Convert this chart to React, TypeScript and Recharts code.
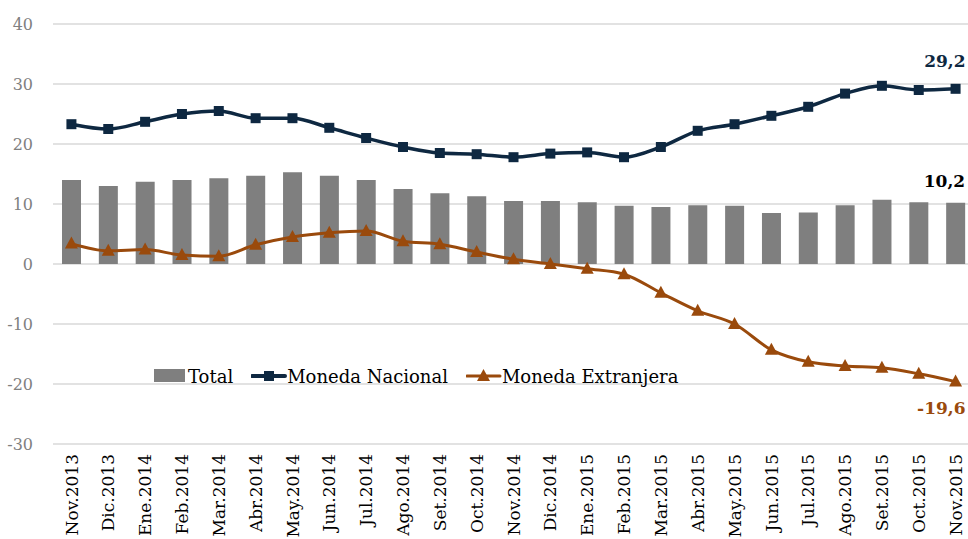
import React from 'react';
import {
  ComposedChart,
  Bar,
  Line,
  XAxis,
  YAxis,
  CartesianGrid,
  LabelList,
} from 'recharts';

const months = [
  'Nov.2013', 'Dic.2013', 'Ene.2014', 'Feb.2014', 'Mar.2014', 'Abr.2014', 'May.2014',
  'Jun.2014', 'Jul.2014', 'Ago.2014', 'Set.2014', 'Oct.2014', 'Nov.2014', 'Dic.2014',
  'Ene.2015', 'Feb.2015', 'Mar.2015', 'Abr.2015', 'May.2015', 'Jun.2015', 'Jul.2015',
  'Ago.2015', 'Set.2015', 'Oct.2015', 'Nov.2015',
];

const total = [
  14.0, 13.0, 13.7, 14.0, 14.3, 14.7, 15.3, 14.7, 14.0, 12.5, 11.8, 11.3, 10.5, 10.5,
  10.3, 9.7, 9.5, 9.8, 9.7, 8.5, 8.6, 9.8, 10.7, 10.3, 10.2,
];

const nacional = [
  23.3, 22.5, 23.7, 25.0, 25.5, 24.3, 24.3, 22.7, 21.0, 19.5, 18.5, 18.3, 17.8, 18.4,
  18.6, 17.8, 19.5, 22.2, 23.3, 24.7, 26.2, 28.4, 29.7, 29.0, 29.2,
];

const extranjera = [
  3.4, 2.2, 2.4, 1.5, 1.3, 3.2, 4.5, 5.2, 5.5, 3.8, 3.3, 2.0, 0.8, 0.0,
  -0.8, -1.7, -4.8, -7.8, -10.0, -14.3, -16.3, -17.0, -17.3, -18.3, -19.6,
];

const yTicks = [-30, -20, -10, 0, 10, 20, 30, 40];

const NAVY = '#0E2841';
const BROWN = '#9A4A0C';
const GRAY = '#7F7F7F';
const FONT = '"DejaVu Serif", serif';

const data = months.map((m, i) => ({
  month: m,
  total: total[i],
  nacional: nacional[i],
  extranjera: extranjera[i],
}));

const last = months.length - 1;
const fmt = (v: number) => v.toFixed(1).replace('.', ',');

function MonthTick({ x, y, payload }: any) {
  return (
    <g transform={`translate(${x},${y})`}>
      <text
        transform="rotate(-90)"
        x={-2}
        y={0}
        dy="0.36em"
        textAnchor="end"
        fontFamily={FONT}
        fontSize={17}
        fill="#000"
      >
        {payload.value}
      </text>
    </g>
  );
}

// only the last point of each series gets a value label
function endLabel(color: string, place: 'above' | 'below' | 'bar') {
  return (props: any) => {
    const { x, y, value, index } = props;
    if (index !== last) return null;
    let ty = y;
    let tx = x + 10;
    if (place === 'above') ty = y - 22;
    if (place === 'below') ty = y + 32;
    if (place === 'bar') {
      tx = x + props.width;
      ty = y - 16;
    }
    return (
      <text x={tx} y={ty} textAnchor="end" fontFamily={FONT} fontSize={17} fontWeight="bold" fill={color}>
        {fmt(value)}
      </text>
    );
  };
}

function Triangle({ cx, cy }: any) {
  if (cx == null || cy == null) return null;
  return <path d={`M${cx},${cy - 7} L${cx + 6.5},${cy + 5} L${cx - 6.5},${cy + 5} Z`} fill={BROWN} />;
}

function Square({ cx, cy }: any) {
  if (cx == null || cy == null) return null;
  return <rect x={cx - 5} y={cy - 5} width={10} height={10} fill={NAVY} />;
}

function LegendBox() {
  const item = { display: 'flex', alignItems: 'center', marginRight: 18 } as const;
  return (
    <div
      style={{
        position: 'absolute',
        left: 154,
        top: 364,
        display: 'flex',
        fontFamily: FONT,
        fontSize: 18,
        color: '#000',
        whiteSpace: 'nowrap',
      }}
    >
      <div style={item}>
        <svg width={34} height={24}>
          <rect x={0} y={5} width={31} height={13} fill={GRAY} />
        </svg>
        <span>Total</span>
      </div>
      <div style={item}>
        <svg width={36} height={24}>
          <line x1={1} y1={12} x2={34} y2={12} stroke={NAVY} strokeWidth={4} strokeLinecap="round" />
          <rect x={13} y={7} width={10} height={10} fill={NAVY} />
        </svg>
        <span>Moneda Nacional</span>
      </div>
      <div style={item}>
        <svg width={36} height={24}>
          <line x1={1} y1={12} x2={34} y2={12} stroke={BROWN} strokeWidth={3} strokeLinecap="round" />
          <path d="M17.5,5 L24,17 L11,17 Z" fill={BROWN} />
        </svg>
        <span>Moneda Extranjera</span>
      </div>
    </div>
  );
}

export default function App() {
  return (
    <div style={{ position: 'relative', width: 968, height: 539, overflow: 'hidden' }}>
      <style>{'body{margin:0;overflow:hidden;}'}</style>
      <ComposedChart
        width={974}
        height={539}
        data={data}
        margin={{ top: 24, right: 0, bottom: 0, left: 0 }}
        barSize={19}
      >
        <CartesianGrid vertical={false} stroke="#D9D9D9" strokeWidth={1.5} />
        <XAxis
          dataKey="month"
          interval={0}
          height={95}
          axisLine={false}
          tickLine={false}
          tick={<MonthTick />}
        />
        <YAxis
          width={53}
          domain={[-30, 40]}
          ticks={yTicks}
          axisLine={false}
          tickLine={false}
          tickMargin={14}
          tick={{ fontFamily: FONT, fontSize: 16, fill: '#808080' }}
        />
        <Bar dataKey="total" fill={GRAY} isAnimationActive={false}>
          <LabelList dataKey="total" content={endLabel('#000', 'bar')} />
        </Bar>
        <Line
          dataKey="nacional"
          type="monotone"
          stroke={NAVY}
          strokeWidth={3.5}
          dot={<Square />}
          activeDot={false}
          isAnimationActive={false}
        >
          <LabelList dataKey="nacional" content={endLabel(NAVY, 'above')} />
        </Line>
        <Line
          dataKey="extranjera"
          type="monotone"
          stroke={BROWN}
          strokeWidth={3}
          dot={<Triangle />}
          activeDot={false}
          isAnimationActive={false}
        >
          <LabelList dataKey="extranjera" content={endLabel(BROWN, 'below')} />
        </Line>
      </ComposedChart>
      <LegendBox />
    </div>
  );
}
